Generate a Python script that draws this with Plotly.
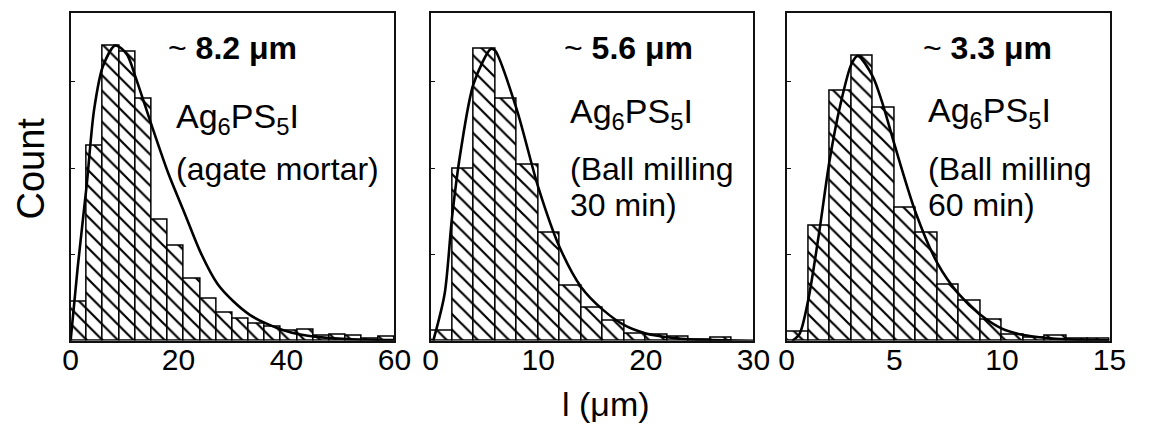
import numpy as np
import plotly.graph_objects as go

# ---------------- data ----------------
# Panel 1: agate mortar (bins of 3 um, 0-60)
p1_bin = 3
p1_counts = [22.7, 112.8, 170.9, 167.6, 139.9, 70.2, 55.2, 35.7, 24.2, 16.3,
             13.0, 10.1, 8.1, 5.6, 6.2, 2.7, 3.7, 2.7, 1.4, 2.3]
p1_fit_x = [0, 1.33, 2.96, 4.36, 5.99, 8.29, 10.4, 12.0, 15.1, 18.1, 21.1, 24.1,
            27.2, 30.2, 33.2, 36.2, 39.3, 42.3, 45.3, 51.4, 60]
p1_fit_y = [0, 43, 89.5, 134, 159, 171, 166, 153, 124, 97, 74, 51,
            33, 22.7, 15, 10, 6.2, 3.7, 2.3, 1.0, 0.4]

# Panel 2: ball milling 30 min (bins of 2 um, 0-28)
p2_bin = 2
p2_counts = [5.8, 99.4, 169.0, 140.3, 101.7, 62.7, 31.7, 19.1, 11.4, 4.2,
             3.3, 2.3, 0.8, 1.9]
p2_fit_x = [0.25, 1.3, 2.0, 2.8, 4.0, 5.6, 6.0, 8.0, 10.0, 12.0, 14.0, 16.0,
            18.0, 20.0, 22.0, 24.0, 26.0, 30.0]
p2_fit_y = [0, 27, 72, 110, 149, 169, 168, 134, 89, 54, 31, 18,
            9, 4.2, 2.0, 0.8, 0.4, 0]

# Panel 3: ball milling 60 min (bins of 1 um, 0-15)
p3_bin = 1
p3_counts = [5.2, 66.6, 144.6, 164.9, 135.0, 77.2, 62.7, 32.2, 23.0, 12.0,
             3.3, 1.9, 2.9, 1.0, 1.4]
p3_fit_x = [0.26, 0.6, 1.0, 1.5, 2.0, 2.5, 3.0, 3.3, 4.0, 4.5, 5.0, 6.0, 7.0,
            8.0, 9.0, 10.0, 11.0, 12.0, 13.0, 15.0]
p3_fit_y = [0, 4, 23.5, 62, 105, 137, 160, 165, 153, 135.5, 114, 74, 45,
            27, 15, 7, 3.3, 1.7, 0.8, 0.2]

x_ranges = [[0, 60], [0, 30], [0, 15]]
x_ticks = [[0, 20, 40, 60], [0, 10, 20, 30], [0, 5, 10, 15]]
sizes = ["8.2 μm", "5.6 μm", "3.3 μm"]
labels = [["(agate mortar)"], ["(Ball milling", "30 min)"], ["(Ball milling", "60 min)"]]

# ---------------- figure ----------------
W, H = 1150, 426
FONT = "Liberation Sans, Arial, sans-serif"
panels = [(p1_bin, p1_counts, p1_fit_x, p1_fit_y),
          (p2_bin, p2_counts, p2_fit_x, p2_fit_y),
          (p3_bin, p3_counts, p3_fit_x, p3_fit_y)]
x_px = [(64, 395), (432, 762), (796, 1126)]
y_px = (12.7, 340.7)

fig = go.Figure()
ann = []
for i, (w, counts, fx, fy) in enumerate(panels):
    xa = "x" if i == 0 else f"x{i+1}"
    ya = "y" if i == 0 else f"y{i+1}"
    centers = np.arange(len(counts)) * w + w / 2
    fig.add_trace(go.Bar(
        x=centers, y=counts, width=w, xaxis=xa, yaxis=ya,
        marker=dict(color="white", line=dict(color="black", width=1.5),
                    pattern=dict(shape="\\", fgcolor="black", bgcolor="white",
                                 fgopacity=1, size=11, solidity=0.2)),
        showlegend=False, hoverinfo="skip"))
    fig.add_trace(go.Scatter(
        x=fx, y=fy, xaxis=xa, yaxis=ya, mode="lines",
        line=dict(color="black", width=2.6, shape="spline", smoothing=0.8),
        showlegend=False, hoverinfo="skip"))

    dom = [x_px[i][0] / W, x_px[i][1] / W]
    key = "" if i == 0 else str(i + 1)
    fig.layout["xaxis" + key] = dict(
        domain=dom, range=x_ranges[i], tickvals=x_ticks[i],
        showline=True, linecolor="#111", linewidth=1.5, mirror=True,
        ticks="", showgrid=False, zeroline=False,
        tickfont=dict(size=30, color="black", family=FONT),
        anchor=ya, ticklabelstandoff=-8)
    fig.layout["yaxis" + key] = dict(
        domain=[1 - y_px[1] / H, 1 - y_px[0] / H], range=[0, 190], dtick=50,
        showline=True, linecolor="#111", linewidth=1.5, mirror=True,
        ticks="inside", ticklen=5, tickcolor="#111", showticklabels=False,
        showgrid=False, zeroline=False, anchor=xa)

# annotations
size_cx = [229, 634, 1001]
text_x0 = [170, 572, 938]
size_y = [48, 48, 48]
ag_y = [118, 114, 113]
line_y = [[169], [169, 205], [169, 205]]
for i in range(3):
    ann.append(dict(x=size_cx[i] / W, y=1 - size_y[i] / H, xref="paper", yref="paper",
                    text=f"~ <b>{sizes[i]}</b>", showarrow=False,
                    xanchor="center", yanchor="middle",
                    font=dict(size=32, color="black", family=FONT)))
    ann.append(dict(x=text_x0[i] / W, y=1 - ag_y[i] / H, xref="paper", yref="paper",
                    text="Ag<sub>6</sub>PS<sub>5</sub>I", showarrow=False,
                    xanchor="left", yanchor="middle",
                    font=dict(size=34, color="black", family=FONT)))
    for t, yy in zip(labels[i], line_y[i]):
        ann.append(dict(x=text_x0[i] / W, y=1 - yy / H, xref="paper", yref="paper",
                        text=t, showarrow=False, xanchor="left", yanchor="middle",
                        font=dict(size=32, color="black", family=FONT)))

ann.append(dict(x=24 / W, y=1 - 168 / H, xref="paper", yref="paper", text="Count",
                textangle=-90, showarrow=False, xanchor="center", yanchor="middle",
                font=dict(size=38, color="black", family=FONT)))
ann.append(dict(x=611 / W, y=1 - 404 / H, xref="paper", yref="paper", text="l (μm)",
                showarrow=False, xanchor="center", yanchor="middle",
                font=dict(size=34, color="black", family=FONT)))

fig.update_layout(width=W, height=H, margin=dict(l=0, r=0, t=0, b=0),
                  paper_bgcolor="white", plot_bgcolor="white",
                  bargap=0, annotations=ann, font=dict(family=FONT, color="black"))

fig.write_html("out.html")
